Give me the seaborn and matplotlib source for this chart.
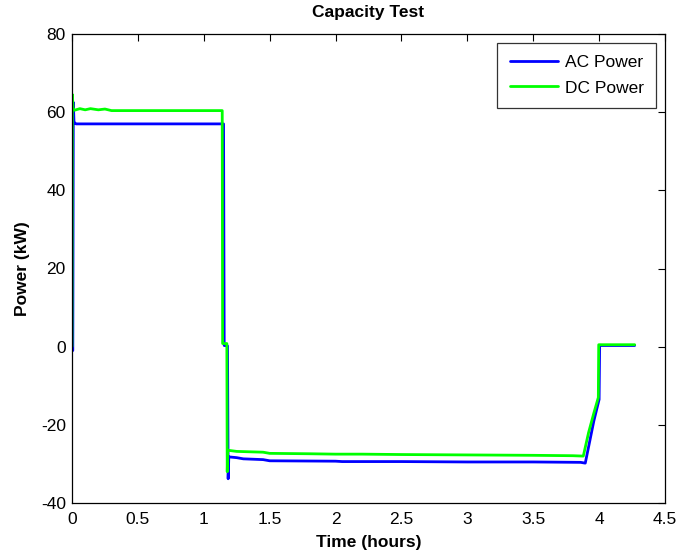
import matplotlib
matplotlib.use("Agg")
import matplotlib.pyplot as plt
import seaborn as sns
import pandas as pd

# ---- data ----
ac_time = [0.0, 0.006, 0.010, 0.015, 0.03, 0.30, 0.70, 1.00, 1.150, 1.155, 1.180,
           1.185, 1.190, 1.25, 1.30, 1.45, 1.50, 2.00, 2.05, 2.50, 3.00, 3.50,
           3.86, 3.895, 3.93, 3.96, 4.000, 4.004, 4.27]
ac_power = [-1.0, -1.0, 62.5, 57.5, 57.0, 57.0, 57.0, 57.0, 57.0, 0.3, 0.2,
            -33.8, -28.2, -28.4, -28.7, -28.9, -29.2, -29.3, -29.4, -29.4, -29.5, -29.5,
            -29.6, -29.8, -24.0, -19.0, -13.5, 0.3, 0.3]

dc_time = [0.0, 0.003, 0.008, 0.02, 0.06, 0.10, 0.14, 0.20, 0.25, 0.30, 0.50, 0.80, 1.00, 1.140,
           1.143, 1.175, 1.178, 1.182, 1.25, 1.45, 1.50, 1.80, 2.00, 2.20, 2.50,
           3.00, 3.50, 3.80, 3.88, 3.92, 3.96, 3.994, 3.997, 4.27]
dc_power = [0.0, 64.5, 61.0, 60.5, 60.9, 60.6, 60.9, 60.6, 60.8, 60.4, 60.4, 60.4, 60.4, 60.4,
            0.8, 0.8, -32.0, -26.5, -26.8, -27.0, -27.3, -27.4, -27.5, -27.5, -27.6,
            -27.7, -27.8, -27.9, -28.0, -22.0, -17.0, -13.0, 0.5, 0.5]

series_names = ["AC Power", "DC Power"]
x_ticks = [0, 0.5, 1, 1.5, 2, 2.5, 3, 3.5, 4, 4.5]
y_ticks = [-40, -20, 0, 20, 40, 60, 80]

df = pd.concat([
    pd.DataFrame({"Time": ac_time, "Power": ac_power, "Series": series_names[0]}),
    pd.DataFrame({"Time": dc_time, "Power": dc_power, "Series": series_names[1]}),
], ignore_index=True)

sns.set_style("white")
plt.rcParams["font.family"] = ["Liberation Sans", "DejaVu Sans"]
plt.rcParams["axes.unicode_minus"] = False
for k in ["text.color", "axes.labelcolor", "xtick.color", "ytick.color", "axes.edgecolor"]:
    plt.rcParams[k] = "black"

FS = 12.5

fig = plt.figure(figsize=(6.76, 5.54), dpi=100)
ax = fig.add_axes([72/676, 1-503/554, (665-72)/676, (503-34)/554])

sns.lineplot(data=df, x="Time", y="Power", hue="Series", sort=False, estimator=None,
             palette={"AC Power": "#0000ff", "DC Power": "#00ff00"},
             linewidth=2.0, ax=ax)

ax.set_xlim(0, 4.5)
ax.set_ylim(-40, 80)
ax.set_xticks(x_ticks)
ax.set_xticklabels([f"{t:g}" for t in x_ticks])
ax.set_yticks(y_ticks)
ax.set_yticklabels([f"{t:g}" for t in y_ticks])
ax.tick_params(direction="in", length=5, width=0.8, top=True, right=True,
               labelsize=FS, colors="black")
ax.tick_params(axis="x", pad=6.5)
ax.tick_params(axis="y", pad=4.5)
for s in ax.spines.values():
    s.set_visible(True)
    s.set_color("black")
    s.set_linewidth(0.9)

ax.set_title("Capacity Test", fontsize=FS, fontweight="bold", pad=12, color="black")
ax.set_xlabel("Time (hours)", fontsize=FS, fontweight="bold", labelpad=6, color="black")
ax.set_ylabel("Power (kW)", fontsize=FS, fontweight="bold", labelpad=8, color="black")

leg = ax.legend(loc="upper right", fontsize=FS, frameon=True, fancybox=False,
                handlelength=2.8, borderaxespad=0.5, borderpad=0.7, labelspacing=0.6,
                handletextpad=0.4, title=None)
leg.get_frame().set_edgecolor("black")
leg.get_frame().set_linewidth(0.9)
for t in leg.get_texts():
    t.set_color("black")
for line in leg.get_lines():
    line.set_linewidth(2.0)

fig.savefig("out.png", dpi=100)
